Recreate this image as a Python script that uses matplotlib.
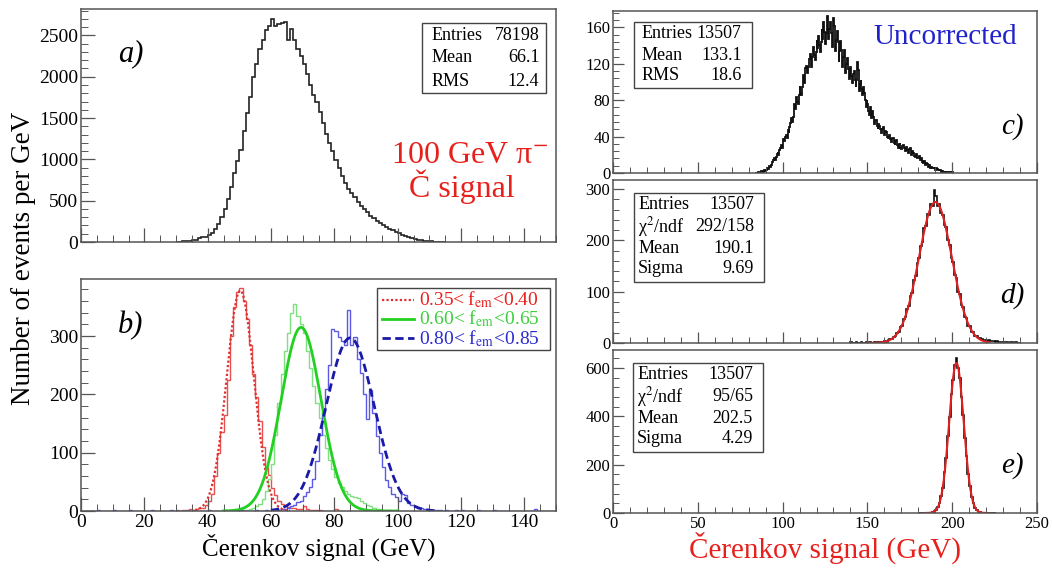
import numpy as np
import matplotlib
matplotlib.use("Agg")
import matplotlib.pyplot as plt
from matplotlib.ticker import MultipleLocator
from matplotlib.patches import Rectangle

plt.rcParams['font.family'] = ['Liberation Serif', 'DejaVu Serif']
plt.rcParams['mathtext.fontset'] = 'stix'

# ---------------- data ----------------
# panel a: all events, 1 GeV bins starting at 30 GeV
a_start = 30
a_counts = [3, 5, 8, 10, 15, 20, 30, 45, 55, 65,
            80, 110, 160, 220, 300, 400, 520, 660, 830, 980,
            1110, 1340, 1560, 1750, 2000, 2150, 2330, 2450, 2560, 2620,
            2700, 2610, 2640, 2650, 2660, 2450, 2580, 2440, 2340, 2250,
            2150, 2030, 1900, 1780, 1690, 1570, 1440, 1310, 1200, 1100,
            990, 890, 800, 720, 640, 590, 540, 480, 430, 400,
            360, 320, 290, 260, 235, 210, 185, 160, 140, 120,
            105, 90, 75, 60, 48, 38, 30, 22, 16, 11,
            8, 5, 3, 2, 1]
a_stats = [("Entries", "78198"), ("Mean", "66.1"), ("RMS", "12.4")]

# panel b: three f_em slices, 1 GeV bins
red_start = 30
red_counts = [2, 0, 1, 0, 3, 2, 3, 5, 6, 10,
              18, 30, 60, 100, 135, 165, 225, 300, 350, 375,
              382, 360, 330, 285, 235, 195, 155, 110, 75, 62,
              40, 28, 18, 12, 9, 7, 6, 5, 4, 3,
              8, 3, 2, 2, 1, 1, 0, 0, 0, 0, 4]
green_start = 50
green_counts = [1, 2, 2, 3, 5, 8, 12, 20, 35, 55,
                80, 130, 185, 235, 275, 305, 340, 355, 335, 320,
                305, 275, 245, 215, 185, 160, 130, 108, 88, 72,
                58, 48, 42, 35, 30, 26, 24, 22, 18, 13,
                10, 8, 6, 4, 3, 2, 1, 1, 0, 1]
blue_start = 0
blue_counts = [0, 0, 0, 0, 0, 1, 0, 0, 0, 0,
               2, 0, 0, 0, 0, 1, 0, 0, 0, 0,
               0, 0, 1, 0, 0, 0, 0, 0, 2, 0,
               0, 0, 0, 1, 0, 0, 0, 0, 0, 0,
               2, 0, 0, 0, 0, 1, 0, 0, 0, 0,
               1, 0, 0, 0, 0, 2, 0, 0, 1, 0,
               2, 0, 2, 3, 3, 5, 8, 10, 15, 18,
               25, 32, 42, 55, 85, 130, 170, 210, 250, 312,
               308, 298, 292, 285, 344, 285, 298, 260, 237, 200,
               157, 208, 168, 128, 99, 76, 53, 42, 30, 24,
               18, 30, 28, 13, 10, 8, 6, 5, 4, 3,
               2, 1, 2, 1, 0, 1, 0, 0, 1, 0,
               2, 0, 0, 0, 0, 2, 0, 0, 0, 0,
               1, 0, 0, 0, 0, 0, 0, 0, 0, 0,
               0, 0, 0, 3, 0, 0, 0, 0, 0, 0]
# Gaussian fits: amplitude, mean, sigma, fit range
b_fits = {
    "red":   (378, 50.3, 4.3, 36, 66),
    "green": (315, 69.5, 6.3, 45, 100),
    "blue":  (297, 85.0, 7.6, 60, 112),
}
b_labels = ["0.35< f$_{\\rm em}$<0.40", "0.60< f$_{\\rm em}$<0.65", "0.80< f$_{\\rm em}$<0.85"]

# panel c: uncorrected, 0.5 GeV bins from 84 GeV
c_start = 84
c_width = 0.5
c_counts = [0, 0, 0, 1, 1, 0, 1, 2, 2, 1, 3, 2, 4, 3, 5, 4, 8, 7, 9, 11,
            12, 14, 17, 14, 18, 21, 23, 20, 25, 28, 31, 28, 33, 37, 35, 40, 42, 39, 47, 44,
            50, 55, 60, 56, 62, 68, 76, 70, 84, 78, 76, 86, 96, 88, 86, 95, 108, 99, 105, 115,
            118, 110, 116, 125, 131, 121, 116, 127, 138, 130, 124, 133, 146, 137, 151, 141, 133, 144, 158, 147,
            166, 155, 142, 154, 172, 164, 147, 158, 166, 154, 138, 151, 170, 162, 134, 146, 156, 144, 122, 134,
            145, 135, 117, 128, 135, 125, 110, 120, 126, 114, 103, 113, 117, 107, 99, 109, 112, 102, 94, 102,
            122, 113, 90, 98, 102, 92, 86, 94, 88, 80, 72, 80, 76, 68, 64, 72, 60, 66, 68, 62,
            54, 58, 58, 52, 48, 54, 52, 48, 44, 48, 50, 44, 42, 46, 45, 40, 38, 42, 42, 37,
            34, 38, 38, 33, 31, 35, 36, 31, 28, 32, 33, 28, 26, 30, 31, 27, 24, 28, 29, 25,
            22, 26, 27, 23, 20, 24, 22, 19, 18, 21, 20, 16, 17, 19, 14, 16, 12, 14, 11, 13,
            9, 11, 10, 8, 7, 9, 6, 7, 5, 6, 4, 6, 3, 5, 4, 3, 2, 3, 3, 1,
            2, 1, 1, 2, 1, 0, 1, 1, 0, 1, 0, 0, 1, 0]
c_stats = [("Entries", "13507"), ("Mean", "133.1"), ("RMS", "18.6")]

# panel d: corrected (method 1), 1 GeV bins from 140 GeV
d_start = 140
d_counts = [1, 0, 0, 1, 0, 0, 2, 0, 0, 1,
            0, 1, 0, 0, 1, 1, 0, 2, 1, 2,
            3, 2, 5, 8, 7, 12, 14, 20, 22, 31,
            34, 46, 50, 66, 72, 92, 98, 122, 130, 156,
            165, 190, 198, 224, 228, 252, 250, 272, 268, 298,
            286, 268, 272, 254, 250, 230, 226, 200, 192, 166,
            158, 132, 126, 100, 96, 74, 70, 50, 48, 34,
            33, 22, 21, 14, 14, 9, 10, 7, 6, 6,
            4, 5, 3, 3, 4, 2, 3, 2, 2, 1,
            2, 1, 1, 0, 1, 1, 0, 1, 0, 0]
d_fit = (275, 190.1, 9.69, 150, 222)
d_stats = [("Entries", "13507"), ("χ$^{2}$/ndf", "292/158"), ("Mean", "190.1"), ("Sigma", "9.69")]

# panel e: corrected (method 2), 1 GeV bins from 180 GeV
e_start = 180
e_counts = [0, 1, 0, 0, 1, 0, 1, 1, 3, 7,
            11, 25, 40, 72, 105, 168, 228, 318, 396, 490,
            550, 610, 640, 598, 560, 480, 405, 310, 236, 160,
            112, 66, 43, 22, 14, 6, 4, 2, 2, 1,
            1, 0, 1, 0, 0, 1]
e_fit = (620, 202.5, 4.29, 184, 220)
e_stats = [("Entries", "13507"), ("χ$^{2}$/ndf", "95/65"), ("Mean", "202.5"), ("Sigma", "4.29")]

# ---------------- figure ----------------
W, H = 1052, 572
fig = plt.figure(figsize=(W / 100, H / 100), dpi=100)


def px_axes(left, top, right, bottom):
    return fig.add_axes([left / W, 1 - bottom / H, (right - left) / W, (bottom - top) / H])


FRAME = '#555555'


def style(ax, xmaj, xmin, ymaj, ymin, ylim, xlim, lsize, xlabels=True, maj_len=8, min_len=4):
    ax.set_xlim(*xlim)
    ax.set_ylim(*ylim)
    ax.xaxis.set_major_locator(MultipleLocator(xmaj))
    ax.xaxis.set_minor_locator(MultipleLocator(xmin))
    ax.yaxis.set_major_locator(MultipleLocator(ymaj))
    ax.yaxis.set_minor_locator(MultipleLocator(ymin))
    ax.tick_params(which='both', direction='in', color=FRAME, labelsize=lsize, pad=2)
    ax.tick_params(which='major', length=maj_len, width=0.9)
    ax.tick_params(which='minor', length=min_len, width=0.7)
    for s in ax.spines.values():
        s.set_color(FRAME)
        s.set_linewidth(1.1)
    if not xlabels:
        ax.tick_params(axis='x', labelbottom=False)


def edges(start, n, width=1.0):
    return start + width * np.arange(n + 1)


def gauss_curve(ax, params, **kw):
    amp, mu, sig, lo, hi = params
    x = np.linspace(lo, hi, 400)
    ax.plot(x, amp * np.exp(-0.5 * ((x - mu) / sig) ** 2), **kw)


def stats_box(ax, rows, box, ylines, xl, xr, size):
    x0, y0, x1, y1 = box
    ax.add_patch(Rectangle((x0, y0), x1 - x0, y1 - y0, transform=ax.transAxes,
                           facecolor='white', edgecolor='#444444', lw=1.0, zorder=5))
    for (lab, val), yy in zip(rows, ylines):
        ax.text(xl, yy, lab, transform=ax.transAxes, fontsize=size, ha='left', va='center', zorder=6)
        ax.text(xr, yy, val, transform=ax.transAxes, fontsize=size, ha='right', va='center', zorder=6)


# ---- panel a ----
axa = px_axes(81, 9, 556, 242)
axa.stairs(a_counts, edges(a_start, len(a_counts)), color='#222222', lw=1.2)
style(axa, 20, 5, 500, 100, (0, 2820), (0, 150), 14, xlabels=False, maj_len=10, min_len=5)
stats_box(axa, a_stats, (0.718, 0.64, 0.978, 0.94), [0.888, 0.79, 0.69], 0.737, 0.965, 13)
axa.text(0.105, 0.81, "a)", transform=axa.transAxes, fontsize=22, style='italic', ha='center', va='center')
axa.text(0.817, 0.373, "100 GeV π$^{-}$", transform=axa.transAxes, fontsize=23, color='#e8201c', ha='center', va='center')
axa.text(0.802, 0.236, "Č signal", transform=axa.transAxes, fontsize=23, color='#e8201c', ha='center', va='center')

# ---- panel b ----
axb = px_axes(81, 279, 556, 511)
axb.stairs(red_counts, edges(red_start, len(red_counts)), color='#e85050', lw=1.0)
axb.stairs(green_counts, edges(green_start, len(green_counts)), color='#7ee07e', lw=1.0)
axb.stairs(blue_counts, edges(blue_start, len(blue_counts)), color='#5a5ae6', lw=1.0)
gauss_curve(axb, b_fits["red"], color='#e03030', lw=1.6, ls=(0, (1, 1)))
gauss_curve(axb, b_fits["green"], color='#22d022', lw=2.0, ls='-')
gauss_curve(axb, b_fits["blue"], color='#1a1aa8', lw=2.0, ls=(0, (3, 1.6)))
style(axb, 20, 5, 100, 20, (0, 398), (0, 150), 14, maj_len=10, min_len=5)
axb.set_xlabel("Čerenkov signal (GeV)", fontsize=18, labelpad=2)
axb.text(0.105, 0.80, "b)", transform=axb.transAxes, fontsize=22, style='italic', ha='center', va='center')
# legend
axb.add_patch(Rectangle((0.623, 0.694), 0.364, 0.267, transform=axb.transAxes,
                        facecolor='white', edgecolor='#444444', lw=1.0, zorder=5))
leg_styles = [dict(color='#e03030', lw=1.6, ls=(0, (1, 1))),
              dict(color='#22d022', lw=2.0, ls='-'),
              dict(color='#1a1aa8', lw=2.0, ls=(0, (3, 1.6)))]
leg_colors = ['#e8201c', '#3ad03a', '#2a2ad0']
for lab, st, col, yy in zip(b_labels, leg_styles, leg_colors, [0.909, 0.827, 0.745]):
    axb.plot([0.633, 0.701], [yy, yy], transform=axb.transAxes, zorder=6, **st)
    axb.text(0.712, yy, lab, transform=axb.transAxes, fontsize=14, color=col, ha='left', va='center', zorder=6)

# ---- panel c ----
axc = px_axes(613, 11, 1037, 173)
axc.stairs(c_counts, edges(c_start, len(c_counts), c_width), color='#111111', lw=1.3)
style(axc, 50, 10, 40, 8, (0, 178), (0, 250), 12)
axc.tick_params(axis='x', labelbottom=False)
stats_box(axc, c_stats, (0.0495, 0.525, 0.328, 0.932), [0.862, 0.728, 0.599], 0.068, 0.3035, 13)
axc.text(0.783, 0.84, "Uncorrected", transform=axc.transAxes, fontsize=21, color='#2222cc', ha='center', va='center')
axc.text(0.941, 0.284, "c)", transform=axc.transAxes, fontsize=21, style='italic', ha='center', va='center')

# ---- panel d ----
axd = px_axes(613, 180, 1037, 343)
axd.stairs(d_counts, edges(d_start, len(d_counts)), color='#111111', lw=1.2)
gauss_curve(axd, d_fit, color='#e02020', lw=1.5)
style(axd, 50, 10, 100, 20, (0, 318), (0, 250), 12)
axd.tick_params(axis='x', labelbottom=False)
stats_box(axd, d_stats, (0.0495, 0.374, 0.356, 0.92), [0.851, 0.714, 0.581, 0.454], 0.059, 0.3325, 13)
axd.text(0.941, 0.294, "d)", transform=axd.transAxes, fontsize=21, style='italic', ha='center', va='center')

# ---- panel e ----
axe = px_axes(613, 350, 1037, 513)
axe.stairs(e_counts, edges(e_start, len(e_counts)), color='#111111', lw=1.2)
gauss_curve(axe, e_fit, color='#e02020', lw=1.5)
style(axe, 50, 10, 200, 40, (0, 674), (0, 250), 12)
stats_box(axe, e_stats, (0.047, 0.374, 0.354, 0.92), [0.851, 0.714, 0.581, 0.454], 0.057, 0.330, 13)
axe.text(0.941, 0.294, "e)", transform=axe.transAxes, fontsize=21, style='italic', ha='center', va='center')
axe.set_xlabel("Čerenkov signal (GeV)", fontsize=21, color='#e8201c', labelpad=0)

# shared y label
fig.text(24 / W, 1 - 258 / H, "Number of events per GeV", rotation=90, fontsize=19.5, ha='center', va='center')

fig.savefig("out.png", dpi=100)
